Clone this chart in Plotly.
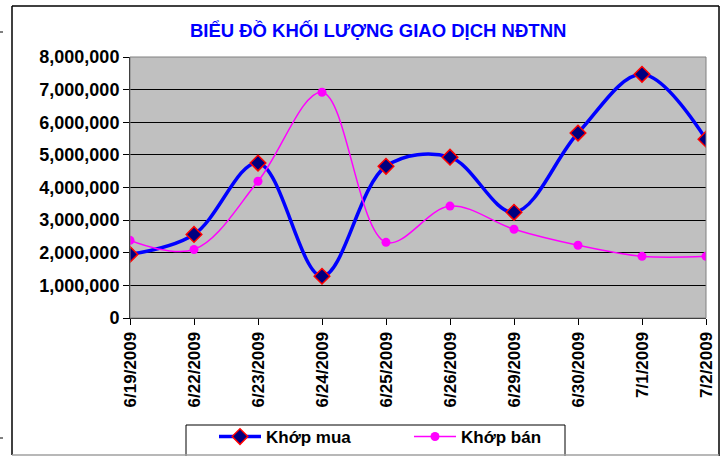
import plotly.graph_objects as go

# Dữ liệu
ngay = ['6/19/2009', '6/22/2009', '6/23/2009', '6/24/2009', '6/25/2009',
        '6/26/2009', '6/29/2009', '6/30/2009', '7/1/2009', '7/2/2009']
khop_mua = [1950000, 2560000, 4750000, 1280000, 4650000,
            4930000, 3240000, 5670000, 7470000, 5480000]
khop_ban = [2380000, 2100000, 4190000, 6920000, 2320000,
            3430000, 2720000, 2230000, 1890000, 1890000]

x = list(range(len(ngay)))
FONT = 'Liberation Sans, Arial, sans-serif'

W, H = 723, 456
L, R, T, B = 130, 17, 57, 138
pw, ph = W - L - R, H - T - B


def px_x(p):
    return (p - L) / pw


def px_y(p):
    return (H - B - p) / ph


def line_px(x0, y0, x1, y1, color='black', width=1.5):
    return dict(type='line', xref='paper', yref='paper',
                x0=px_x(x0), x1=px_x(x1), y0=px_y(y0), y1=px_y(y1),
                line=dict(color=color, width=width))


fig = go.Figure()

fig.add_trace(go.Scatter(
    x=x, y=khop_mua, mode='lines+markers', name='<b>Khớp mua</b>',
    line=dict(color='#0000FF', width=3.5, shape='spline', smoothing=1),
    marker=dict(symbol='diamond', size=12, color='#000080',
                line=dict(color='#FF0000', width=1.5))
))

fig.add_trace(go.Scatter(
    x=x, y=khop_ban, mode='lines+markers', name='<b>Khớp bán</b>',
    line=dict(color='#FF00FF', width=1.5, shape='spline', smoothing=1),
    marker=dict(symbol='circle', size=9, color='#FF00FF')
))

fig.update_layout(
    width=W, height=H,
    margin=dict(l=L, r=R, t=T, b=B, autoexpand=False),
    paper_bgcolor='white',
    plot_bgcolor='#C0C0C0',
    font=dict(family=FONT, color='black'),
    title=dict(text='<b>BIỂU ĐỒ KHỐI LƯỢNG GIAO DỊCH NĐTNN</b>',
               x=0.523, xanchor='center', y=0.934, yanchor='middle',
               font=dict(size=18.5, color='#0000FF', family=FONT)),
    showlegend=True,
    legend=dict(orientation='h', xref='container', yref='container',
                x=214 / W, xanchor='left', y=1 - 437 / H, yanchor='middle',
                bgcolor='rgba(0,0,0,0)', borderwidth=0,
                font=dict(size=17, family=FONT), entrywidth=138,
                itemwidth=42),
    shapes=[dict(type='rect', xref='paper', yref='paper',
                 x0=0, x1=1, y0=0, y1=1,
                 line=dict(color='#808080', width=1)),
            # khung ngoài
            line_px(12, 6, 12, 455),
            line_px(12, 6, 719, 6),
            line_px(719, 6, 719, 456),
            line_px(12, 455, 719, 455, color='#A0A0A0', width=1.5),
            # vạch nhỏ bên trái
            line_px(0, 32, 3, 32, width=1),
            line_px(0, 438, 3, 438, width=1),
            # khung chú thích
            dict(type='rect', xref='paper', yref='paper',
                 x0=px_x(186), x1=px_x(565), y0=px_y(458), y1=px_y(425),
                 line=dict(color='black', width=1), fillcolor='white',
                 layer='below')]
)

fig.update_xaxes(
    tickmode='array', tickvals=x, ticktext=['<b>%s</b>' % d for d in ngay],
    tickangle=-90, range=[0, 9], showgrid=False, zeroline=False,
    ticks='outside', ticklen=6, tickcolor='black', tickfont=dict(size=17),
    showline=True, linecolor='black', automargin=False
)
fig.update_yaxes(
    range=[0, 8000000], dtick=1000000, tickformat=',d',
    showgrid=True, gridcolor='black', gridwidth=1, zeroline=False,
    ticks='outside', ticklen=6, tickcolor='black',
    tickfont=dict(size=18), showline=True, linecolor='black',
    tickprefix='<b>', ticksuffix='</b>', automargin=False
)

fig.write_html("out.html", config={'displayModeBar': False},
               post_script="document.body.style.margin='0';"
                           "document.body.style.overflow='hidden';")
